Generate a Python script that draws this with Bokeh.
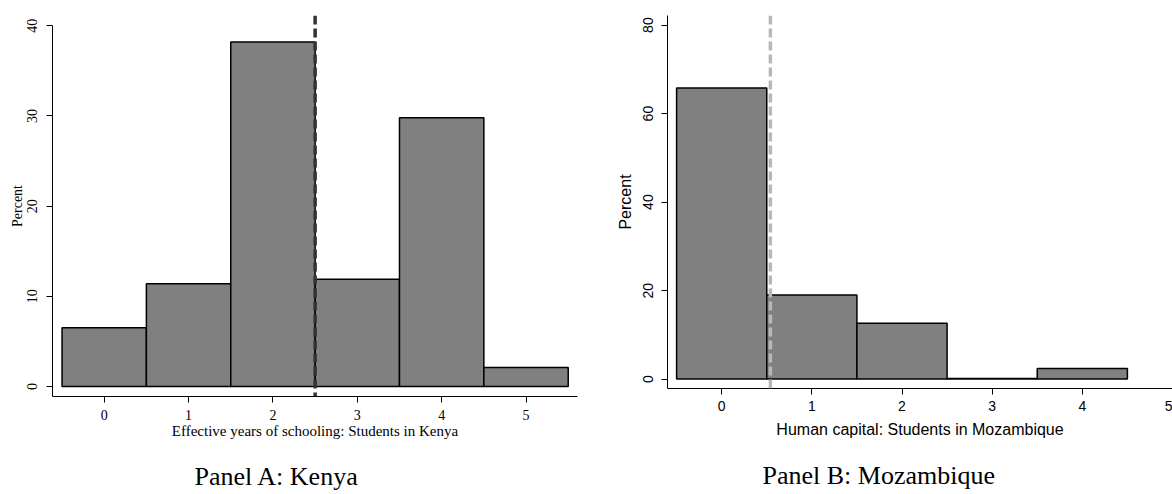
from bokeh.plotting import figure
from bokeh.layouts import row
from bokeh.models import Span, Title, FixedTicker
from bokeh.embed import file_html
from bokeh.resources import INLINE

# ---- data ----
kenya_bins = [0, 1, 2, 3, 4, 5]
kenya_pct = [6.5, 11.4, 38.2, 11.9, 29.8, 2.1]
kenya_mean = 2.5
kenya_xticks = [0, 1, 2, 3, 4, 5]
kenya_yticks = [0, 10, 20, 30, 40]

moz_bins = [0, 1, 2, 3, 4]
moz_pct = [65.8, 19.0, 12.6, 0.15, 2.4]
moz_mean = 0.54
moz_xticks = [0, 1, 2, 3, 4, 5]
moz_yticks = [0, 20, 40, 60, 80]

SERIF = "Liberation Serif"
SANS = "Liberation Sans"


def style(p, font, tick_size, ylab_size, xlab_size, xticks, yticks,
          ylab_standoff, xlab_standoff, ytick_standoff, xtick_standoff):
    p.xgrid.visible = False
    p.ygrid.visible = False
    p.xaxis.ticker = FixedTicker(ticks=xticks)
    p.yaxis.ticker = FixedTicker(ticks=yticks)
    for ax in (p.xaxis[0], p.yaxis[0]):
        ax.axis_line_color = "black"
        ax.axis_line_width = 1
        ax.major_tick_line_color = "black"
        ax.major_tick_in = 0
        ax.major_tick_out = 6
        ax.minor_tick_line_color = None
        ax.major_label_text_font = font
        ax.major_label_text_font_size = tick_size
        ax.major_label_text_color = "black"
        ax.axis_label_text_font = font
        ax.axis_label_text_font_style = "normal"
        ax.axis_label_text_color = "black"
    p.yaxis.major_label_orientation = "vertical"
    p.yaxis.axis_label_text_font_size = ylab_size
    p.xaxis.axis_label_text_font_size = xlab_size
    p.yaxis.axis_label_standoff = ylab_standoff
    p.xaxis.axis_label_standoff = xlab_standoff
    p.yaxis.major_label_standoff = ytick_standoff
    p.xaxis.major_label_standoff = xtick_standoff


# ---- Panel A ----
p1 = figure(frame_width=525, frame_height=381,
            x_range=(-0.613, 5.61), y_range=(-1.11, 41.14),
            output_backend="svg", toolbar_location=None,
            min_border_left=52, min_border_right=30, min_border_top=13,
            min_border_bottom=100, outline_line_color=None,
            background_fill_color="white", border_fill_color="white")
p1.quad(left=[b - 0.5 for b in kenya_bins], right=[b + 0.5 for b in kenya_bins],
        bottom=0, top=kenya_pct, fill_color="#808080", line_color="black",
        line_width=1.5)
p1.add_layout(Span(location=kenya_mean, dimension="height", line_color="#333333",
                   line_width=3.5, line_dash="9 4"))
p1.xaxis.axis_label = "Effective years of schooling: Students in Kenya"
p1.yaxis.axis_label = "Percent"
style(p1, SERIF, "14px", "14px", "15px", kenya_xticks, kenya_yticks,
      0, 0, 9, 7)
p1.yaxis.bounds = (-1.11, 40)
p1.add_layout(Title(text="Panel A: Kenya", align="left", text_font=SERIF,
                    text_font_size="26px", text_font_style="normal",
                    text_color="black", offset=142, standoff=37), "below")

# ---- Panel B ----
p2 = figure(frame_width=505, frame_height=373,
            x_range=(-0.601, 5.0), y_range=(-2.12, 82.17),
            output_backend="svg", toolbar_location=None,
            min_border_left=60, min_border_right=0, min_border_top=15,
            min_border_bottom=106, outline_line_color=None,
            background_fill_color="white", border_fill_color="white")
p2.quad(left=[b - 0.5 for b in moz_bins], right=[b + 0.5 for b in moz_bins],
        bottom=0, top=moz_pct, fill_color="#808080", line_color="black",
        line_width=1.5)
p2.add_layout(Span(location=moz_mean, dimension="height", line_color="#b8b8b8",
                   line_width=3.5, line_dash="9 4"))
p2.xaxis.axis_label = "Human capital: Students in Mozambique"
p2.yaxis.axis_label = "Percent"
style(p2, SANS, "14px", "16px", "16px", moz_xticks, moz_yticks,
      7, 7, 8, 6)
p2.add_layout(Title(text="Panel B: Mozambique", align="left", text_font=SERIF,
                    text_font_size="26px", text_font_style="normal",
                    text_color="black", offset=95, standoff=37), "below")

layout = row(p1, p2)
open("out.html", "w").write(file_html(layout, INLINE))
